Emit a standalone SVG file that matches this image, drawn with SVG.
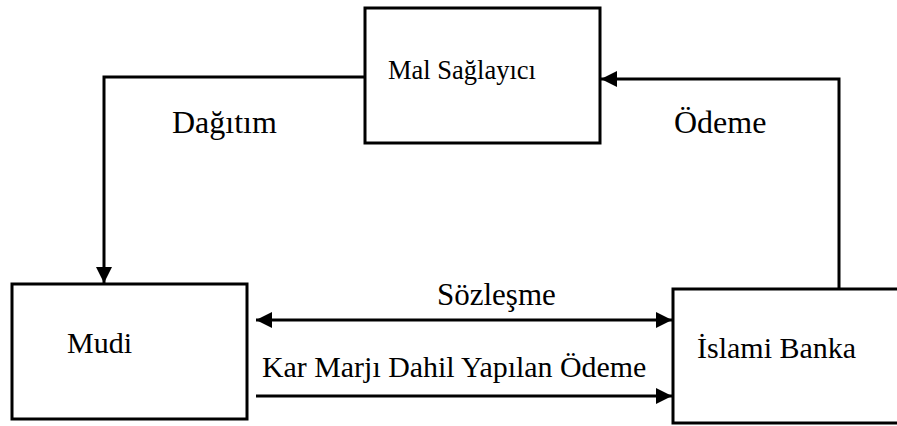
<svg xmlns="http://www.w3.org/2000/svg" width="897" height="426" viewBox="0 0 897 426">
  <style>
    .box { fill: #ffffff; stroke: #000000; stroke-width: 3; }
    .conn { fill: none; stroke: #000000; stroke-width: 3; }
    .lbl { font-family: "Liberation Serif", "Times New Roman", serif; fill: #000000; }
  </style>
  <defs>
    <marker id="arrow" markerUnits="userSpaceOnUse" markerWidth="18" markerHeight="16" refX="16" refY="8" orient="auto-start-reverse">
      <path d="M0,0 L16,8 L0,16 Z" fill="#000000"/>
    </marker>
  </defs>
  <rect width="897" height="426" fill="#ffffff"/>

  <g id="mal-saglayici">
    <rect class="box" x="365" y="8" width="235" height="135"/>
    <text class="lbl" x="388" y="79" font-size="26.5">Mal Sağlayıcı</text>
  </g>

  <g id="mudi">
    <rect class="box" x="12" y="284" width="235" height="135"/>
    <text class="lbl" x="67" y="353" font-size="30">Mudi</text>
  </g>

  <g id="islami-banka">
    <rect class="box" x="673" y="289" width="230" height="134"/>
    <text class="lbl" x="697" y="358" font-size="30">İslami Banka</text>
  </g>

  <g id="connectors">
    <path class="conn" d="M365,77 H104 V283" marker-end="url(#arrow)"/>
    <path class="conn" d="M839,289 V79 H601" marker-end="url(#arrow)"/>
    <path class="conn" d="M256,320 H672" marker-start="url(#arrow)" marker-end="url(#arrow)"/>
    <path class="conn" d="M256,396 H672" marker-end="url(#arrow)"/>
  </g>

  <g id="labels">
    <text class="lbl" x="172" y="133" font-size="32">Dağıtım</text>
    <text class="lbl" x="674" y="133" font-size="32">Ödeme</text>
    <text class="lbl" x="437" y="305" font-size="31">Sözleşme</text>
    <text class="lbl" x="262" y="377" font-size="29.9">Kar Marjı Dahil Yapılan Ödeme</text>
  </g>
</svg>
